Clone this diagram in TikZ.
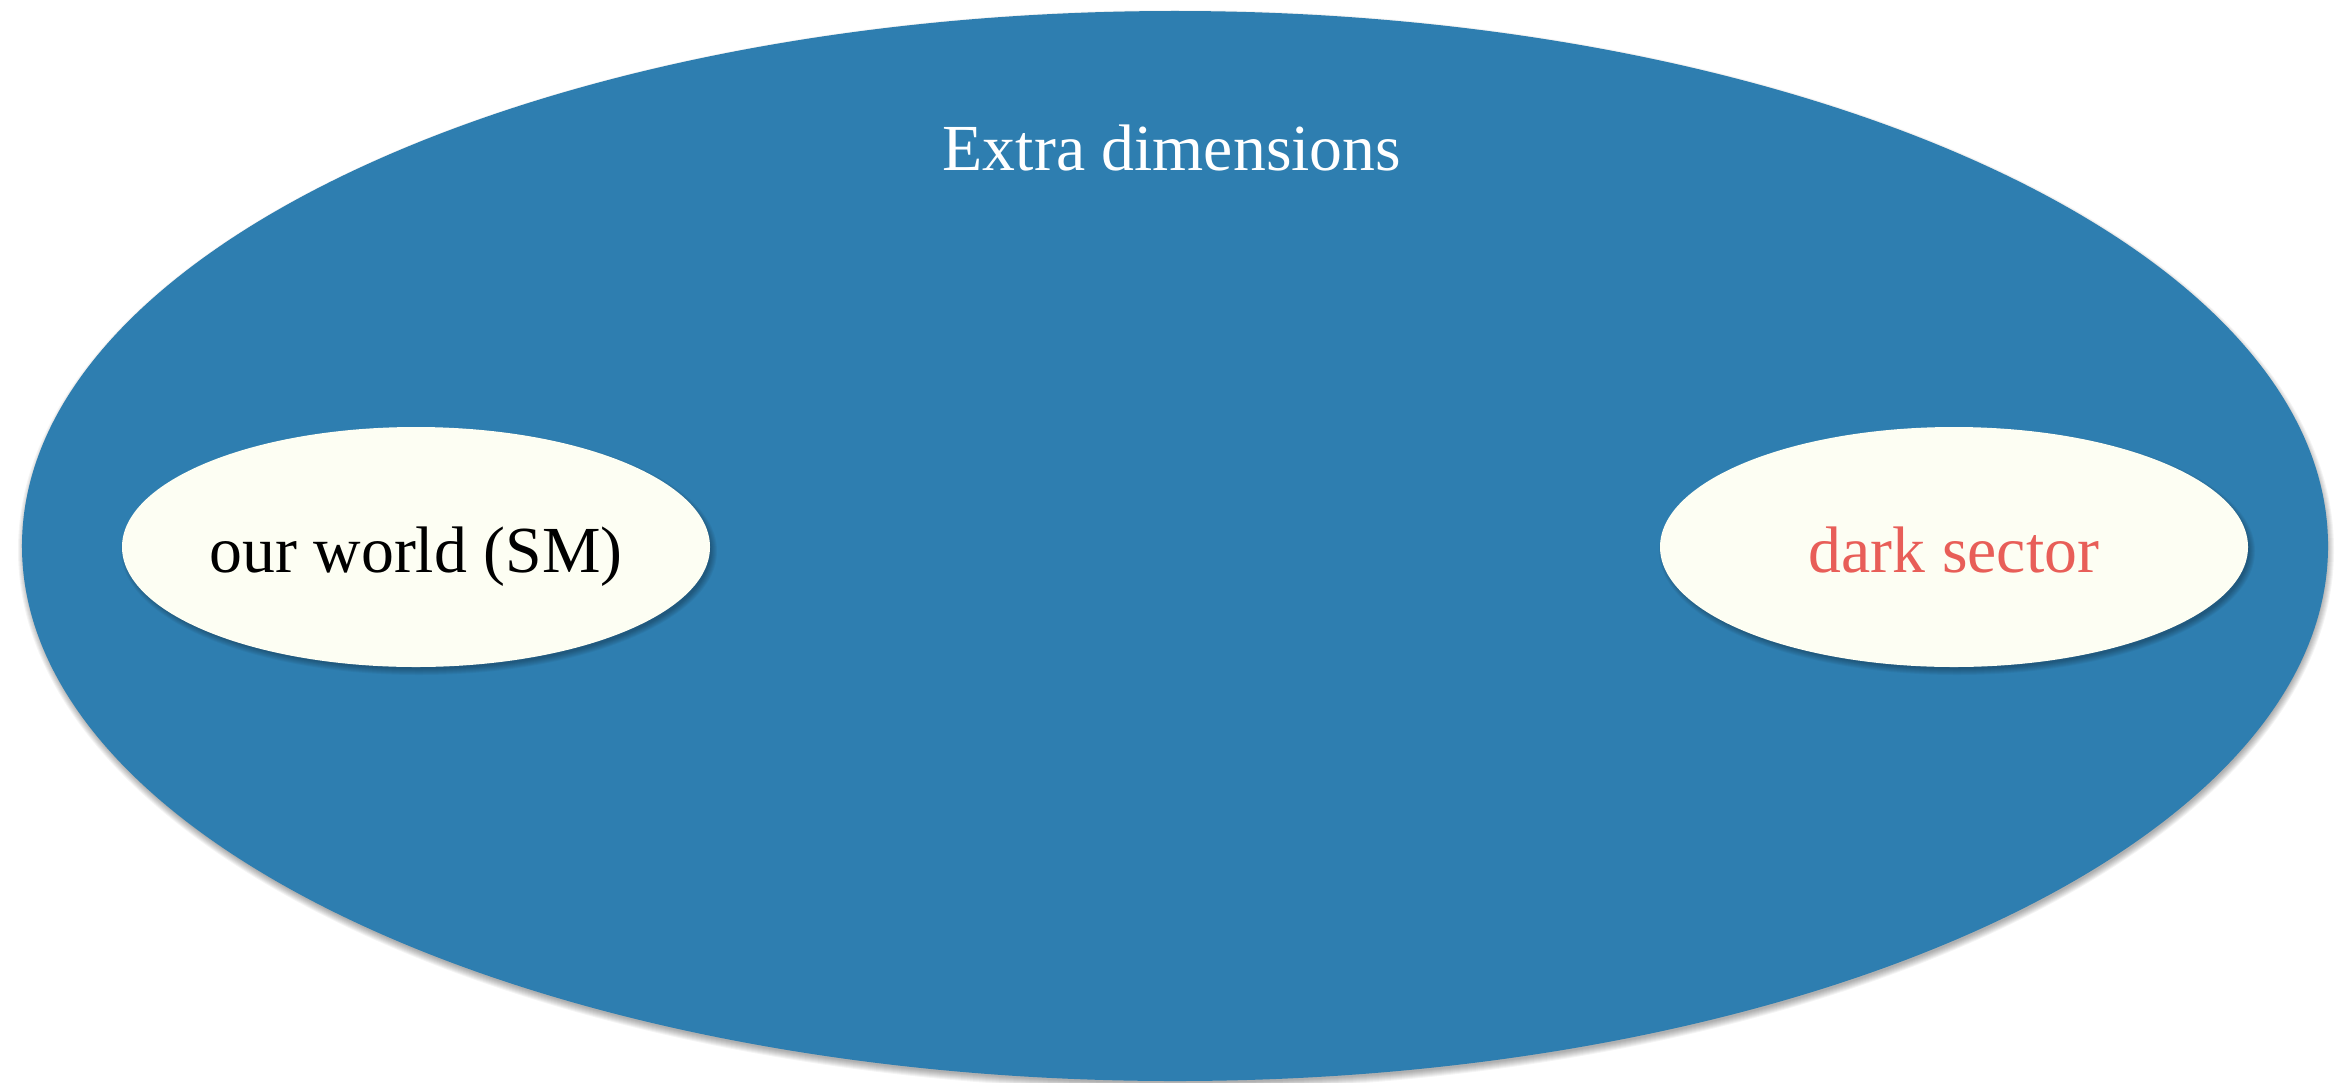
\documentclass[tikz,border=0pt]{standalone}
\usepackage{fontspec}
\setmainfont{Liberation Serif}
\usetikzlibrary{shapes.geometric}
\definecolor{bgblue}{RGB}{46,126,176}
\definecolor{cream}{RGB}{253,254,243}
\definecolor{sectorred}{RGB}{232,94,88}
\tikzset{
  bigblob/.style={ellipse, fill=bgblue, inner sep=0pt, minimum width=2306bp, minimum height=1070bp},
  smallblob/.style={ellipse, fill=cream, inner sep=0pt, minimum width=588bp, minimum height=240bp},
  labeltext/.style={font=\fontsize{66}{72}\selectfont, anchor=base, inner sep=0pt},
  softshadow/.style={black, opacity=0.045},
}
\begin{document}
\begin{tikzpicture}[x=1bp,y=-1bp]
\useasboundingbox (0,0) rectangle (2347,1082);
\fill[white] (0,0) rectangle (2347,1082);
% shadow of the outer ellipse
\foreach \k in {0,...,7}
  \fill[softshadow] (1176,550) ellipse [x radius={1153+\k-2}, y radius={535+\k-2}];
\node[bigblob] (extra) at (1175,546) {};
% shadows of the inner ellipses
\foreach \k in {0,...,6}{
  \fill[softshadow] (419,551) ellipse [x radius={294+\k-2}, y radius={120+\k-2}];
  \fill[softshadow] (1957,551) ellipse [x radius={294+\k-2}, y radius={120+\k-2}];
}
\node[smallblob] (sm) at (416,547) {};
\node[smallblob] (dark) at (1954,547) {};
\node[labeltext, text=white] (extratext) at (1172,170) {Extra dimensions};
\node[labeltext, text=black] (smtext) at (416,572) {our world (SM)};
\node[labeltext, text=sectorred] (darktext) at (1954,572) {dark sector};
\end{tikzpicture}
\end{document}
